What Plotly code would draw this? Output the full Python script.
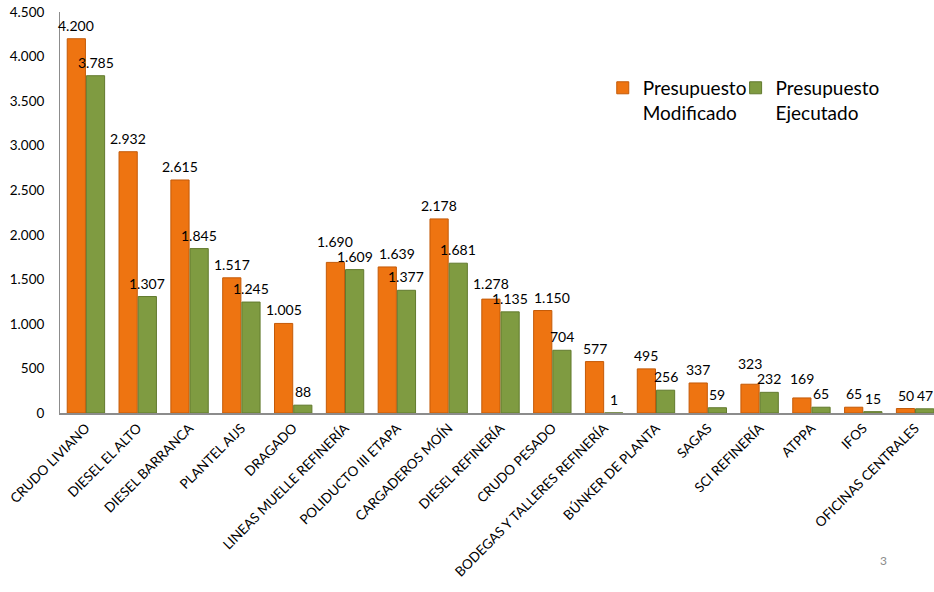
import plotly.graph_objects as go

categories = ["CRUDO LIVIANO", "DIESEL EL ALTO", "DIESEL BARRANCA", "PLANTEL AIJS", "DRAGADO",
              "LINEAS MUELLE REFINERÍA", "POLIDUCTO III ETAPA", "CARGADEROS MOÍN", "DIESEL REFINERÍA",
              "CRUDO PESADO", "BODEGAS Y TALLERES REFINERÍA", "BÚNKER DE PLANTA", "SAGAS",
              "SCI REFINERÍA", "ATPPA", "IFOS", "OFICINAS CENTRALES"]
modificado = [4200, 2932, 2615, 1517, 1005, 1690, 1639, 2178, 1278, 1150, 577, 495, 337, 323, 169, 65, 50]
ejecutado = [3785, 1307, 1845, 1245, 88, 1609, 1377, 1681, 1135, 704, 1, 256, 59, 232, 65, 15, 47]
y_ticks = [0, 500, 1000, 1500, 2000, 2500, 3000, 3500, 4000, 4500]

font_family = "Lato, 'Open Sans', sans-serif"
ORANGE = "#EE7411"
GREEN = "#7F9B41"

n = len(categories)
y_max = 4500
plot_h = 401          # pixel height of plotting area
cat_px = 51.8         # pixel width of one category
bargap = 0.26
label_size = 14
line_h = 15


def fmt(v):
    return f"{v:,}".replace(",", ".")


def text_w(s):
    return sum(3.6 if c == "." else 0.58 * label_size for c in s)


fig = go.Figure()
fig.add_trace(go.Bar(
    x=categories, y=modificado, name="Presupuesto<br>Modificado",
    marker=dict(color=ORANGE, line=dict(color="#C45A08", width=1)), legend="legend",
))
fig.add_trace(go.Bar(
    x=categories, y=ejecutado, name="Presupuesto<br>Ejecutado",
    marker=dict(color=GREEN, line=dict(color="#627A2E", width=1)), legend="legend2",
))

# value labels as annotations, nudged when neighbouring labels would collide
half = (1 - bargap) / 4
px_per_unit = plot_h / y_max
centre_gap = (1 - bargap) / 2 * cat_px
labels = []  # (x_index, value, text, yshift, xshift)
for i in range(n):
    mo, ej = modificado[i], ejecutado[i]
    so, se = fmt(mo), fmt(ej)
    lo = dict(x=i - half, v=mo, t=so, ys=3, xs=0)
    le = dict(x=i + half, v=ej, t=se, ys=3, xs=0)
    if (text_w(so) + text_w(se)) / 2 > centre_gap:
        yo = mo * px_per_unit + lo["ys"]
        ye = ej * px_per_unit + le["ys"]
        if abs(yo - ye) < line_h:
            if mo >= ej:
                lo["ys"] += line_h - (yo - ye)
            else:
                le["ys"] += line_h - (ye - yo)
    labels.extend([lo, le])

# between a green label and the next category's orange label
for k in range(1, len(labels) - 1, 2):
    a, b = labels[k], labels[k + 1]
    ya = a["v"] * px_per_unit + a["ys"]
    yb = b["v"] * px_per_unit + b["ys"]
    if abs(ya - yb) < line_h:
        dist = (b["x"] - a["x"]) * cat_px
        overlap = (text_w(a["t"]) + text_w(b["t"])) / 2 - dist
        if overlap > -2:
            b["xs"] += overlap + 6

annotations = [dict(x=l["x"], y=l["v"], xref="x", yref="y", text=l["t"], showarrow=False,
                    yanchor="bottom", yshift=l["ys"], xshift=l["xs"],
                    font=dict(size=label_size, color="black")) for l in labels]

annotations.append(dict(text="3", x=880 / 934, y=(413 - 560) / 401, xref="paper", yref="paper",
                        xanchor="center", yanchor="middle", showarrow=False,
                        font=dict(size=12, color="#8C8C8C")))

legend_style = dict(orientation="h", yanchor="top", font=dict(size=19, color="black"),
                    bgcolor="rgba(0,0,0,0)", valign="top", itemwidth=30)

fig.update_layout(
    width=934, height=592,
    margin=dict(l=60, r=0, t=12, b=179),
    paper_bgcolor="white", plot_bgcolor="white",
    separators=",.",
    font=dict(family=font_family, size=12, color="black"),
    barmode="group", bargap=bargap, bargroupgap=0.05,
    showlegend=True,
    legend=dict(x=0.621, y=0.858, xanchor="left", **legend_style),
    legend2=dict(x=0.773, y=0.858, xanchor="left", **legend_style),
    xaxis=dict(range=[-0.5, n - 0.5 - 7 / cat_px], tickangle=-45, showline=True,
               linecolor="#8C8C8C", linewidth=2, ticks="", tickfont=dict(size=13.5)),
    yaxis=dict(range=[0, y_max], tickvals=y_ticks, tickformat=",", showgrid=False,
               showline=True, linecolor="#8C8C8C", linewidth=1, ticks="",
               tickfont=dict(size=13.5), zeroline=False, ticklabelstandoff=12),
    annotations=annotations,
)
fig.write_html("out.html")
